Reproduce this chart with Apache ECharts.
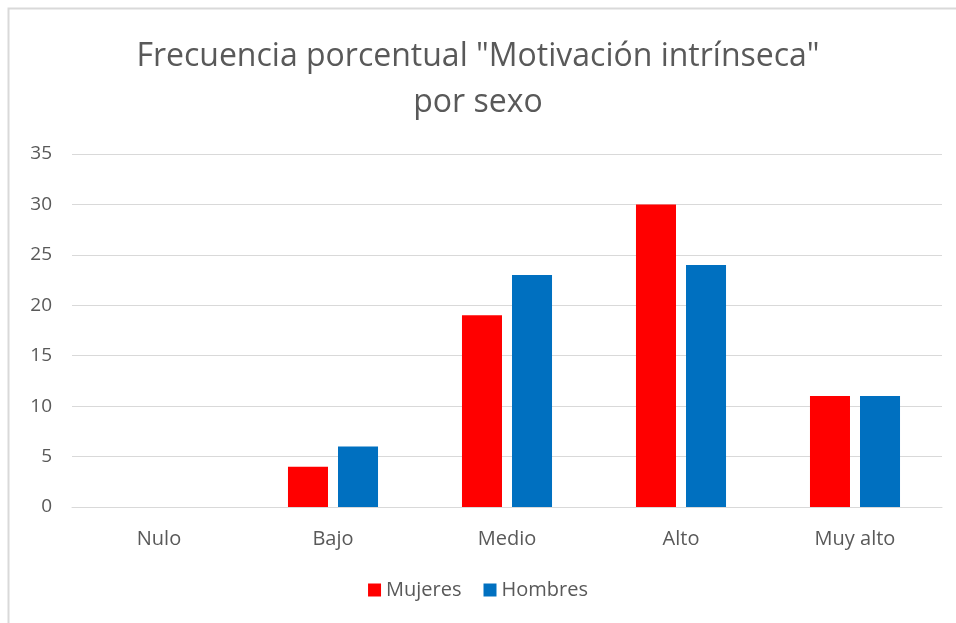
<!DOCTYPE html>
<html>
<head>
<meta charset="utf-8">
<style>
    html, body {margin: 0; padding: 0; background: #fff;}
    #chart {width: 956px; height: 623px;}
</style>
<script src="https://cdn.jsdelivr.net/npm/echarts@6/dist/echarts.min.js"></script>
</head>
<body>
<div id="chart"></div>
<script>
    // datos
    var categorias = ['Nulo', 'Bajo', 'Medio', 'Alto', 'Muy alto'];
    var mujeres = [0, 4, 19, 30, 11];
    var hombres = [0, 6, 23, 24, 11];
    var ticksY = [0, 5, 10, 15, 20, 25, 30, 35];

    var fuente = '"Open Sans", "DejaVu Sans", sans-serif';
    var chart = echarts.init(document.getElementById('chart'));
    var option = {
        animation: false,
        color: ['#ff0000', '#0070c0'],
        graphic: [{
            type: 'rect',
            shape: {x: 8.5, y: 8.5, width: 1000, height: 700},
            style: {fill: 'none', stroke: '#d9d9d9', lineWidth: 2},
            silent: true
        }],
        title: {
            text: 'Frecuencia porcentual "Motivación intrínseca"\npor sexo',
            left: 'center',
            top: 29,
            textStyle: {
                fontFamily: fuente,
                fontSize: 32,
                fontWeight: 'normal',
                color: '#595959',
                lineHeight: 46
            }
        },
        legend: {
            data: ['Mujeres', 'Hombres'],
            bottom: 18,
            left: 'center',
            itemWidth: 13,
            itemHeight: 13,
            itemGap: 22,
            icon: 'rect',
            textStyle: {fontFamily: fuente, fontSize: 20, color: '#595959'}
        },
        grid: {left: 72, right: 14, top: 154, bottom: 116},
        xAxis: {
            type: 'category',
            data: categorias,
            axisLine: {show: true, lineStyle: {color: '#d9d9d9'}},
            axisTick: {show: false},
            axisLabel: {fontFamily: fuente, fontSize: 20, color: '#595959', margin: 22}
        },
        yAxis: {
            type: 'value',
            min: ticksY[0],
            max: ticksY[ticksY.length - 1],
            interval: 5,
            axisLine: {show: false},
            axisTick: {show: false},
            splitLine: {lineStyle: {color: '#d9d9d9'}},
            axisLabel: {fontFamily: fuente, fontSize: 19, color: '#595959', margin: 20}
        },
        series: [{
            name: 'Mujeres',
            type: 'bar',
            data: mujeres,
            barWidth: '23%',
            barGap: '25%'
        }, {
            name: 'Hombres',
            type: 'bar',
            data: hombres,
            barWidth: '23%',
            barGap: '25%'
        }]
    };
    chart.setOption(option);
</script>
</body>
</html>
